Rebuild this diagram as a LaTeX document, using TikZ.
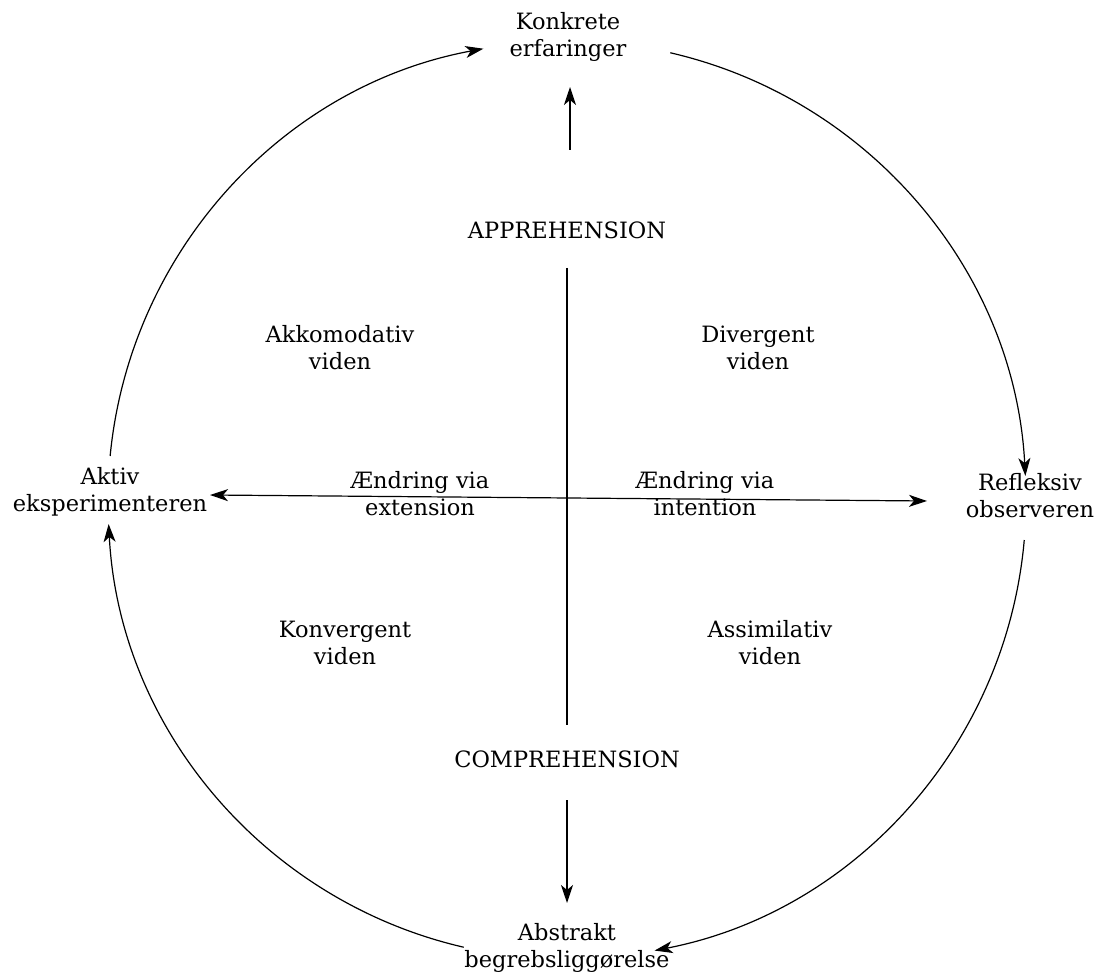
\documentclass[tikz,border=0pt]{standalone}
\usepackage{fontspec}
\setmainfont{DejaVu Serif}
\usetikzlibrary{arrows.meta}
\begin{document}
\begin{tikzpicture}[x=1pt,y=1pt,
  lbl/.style={align=center, inner sep=0pt, font=\fontsize{22.5}{27}\selectfont},
  tip/.style={},
  conn/.style={line width=1.2pt, -{Stealth[length=18pt,width=12pt,inset=5pt]}},
  both/.style={line width=1.2pt, {Stealth[length=18pt,width=12pt,inset=5pt]}-{Stealth[length=18pt,width=12pt,inset=5pt]}},
  plain/.style={line width=1.2pt}]
\useasboundingbox (0,0) rectangle (1095,978);
\coordinate (O) at (567,478);
% corner labels
\node[lbl] (konk) at (568,941) {Konkrete\\erfaringer};
\node[lbl] (aktiv) at (110,486) {Aktiv\\eksperimenteren};
\node[lbl] (refl) at (1030,482) {Refleksiv\\observeren};
\node[lbl] (abst) at (567,30) {Abstrakt\\begrebsliggørelse};
% axis labels
\node[lbl] (appr) at (567,748) {APPREHENSION};
\node[lbl] (compr) at (567,219) {COMPREHENSION};
% quadrants
\node[lbl] (akk) at (340,630) {Akkomodativ\\viden};
\node[lbl] (div) at (758,630) {Divergent\\viden};
\node[lbl] (konv) at (345,335) {Konvergent\\viden};
\node[lbl] (assim) at (770,335) {Assimilativ\\viden};
\node[lbl] (ext) at (420,484) {Ændring via\\extension};
\node[lbl] (int) at (705,484) {Ændring via\\intention};
% axes
\coordinate (vtop) at (567,710);
\coordinate (vbot) at (567,253);
\draw[plain] (vtop) -- (vbot);
\coordinate (lt) at (210,483);
\coordinate (rt) at (927,477);
\draw[both] (lt) -- (rt);
\coordinate (ua) at (570,828);
\coordinate (ub) at (570,891);
\draw[conn] (ua) -- (ub);
\coordinate (da) at (567,178);
\coordinate (db) at (567,75);
\draw[conn] (da) -- (db);
% cycle arcs
\path (O) ++(174.5:459) coordinate (a1);
\path (O) ++(77:459) coordinate (b1);
\path (O) ++(-5:459) coordinate (c1);
\path (O) ++(-103:459) coordinate (d1);
\draw[conn] (a1) arc[start angle=174.5, end angle=100.5, radius=459];
\draw[conn] (b1) arc[start angle=77, end angle=3, radius=459];
\draw[conn] (c1) arc[start angle=-5, end angle=-79, radius=459];
\draw[conn] (d1) arc[start angle=-103, end angle=-177, radius=459];
\end{tikzpicture}
\end{document}
